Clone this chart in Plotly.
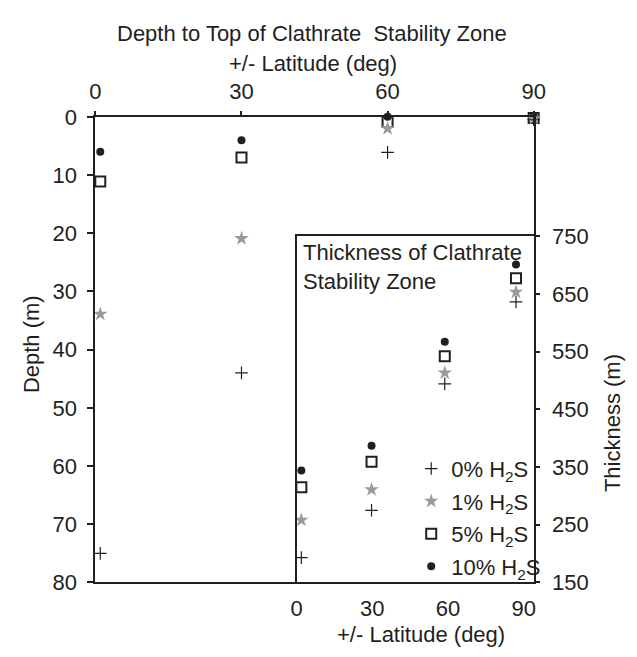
import plotly.graph_objects as go

W, H = 637, 657

# ---- data: depth to top of clathrate stability zone (main plot) ----
lat_main = [1, 30, 60, 90]
depth_0pct = [75.0, 44.0, 6.1, 0.5]
depth_1pct = [33.9, 20.9, 2.0, 0.3]
depth_5pct = [11.1, 7.0, 0.9, 0.2]
depth_10pct = [6.0, 4.0, 0.0, 0.0]

# ---- data: thickness of clathrate stability zone (inset) ----
lat_inset = [1.9, 29.7, 58.7, 86.9]
thick_0pct = [193, 275, 494, 636]
thick_1pct = [258, 311, 513, 653]
thick_5pct = [315, 359, 542, 677]
thick_10pct = [344, 387, 567, 701]

depth_ticks = [0, 10, 20, 30, 40, 50, 60, 70, 80]
lat_ticks = [0, 30, 60, 90]
thick_ticks = [150, 250, 350, 450, 550, 650, 750]

series_names = ["0% H<sub>2</sub>S", "1% H<sub>2</sub>S", "5% H<sub>2</sub>S", "10% H<sub>2</sub>S"]

FONT = "Liberation Sans, Arial, sans-serif"
FS = 22
TXT = "#231f20"
LINE = "#231f20"
GRAY = "#9a9a9a"

styles = [
    dict(symbol="cross-thin", size=9, color=TXT, line=dict(width=1.2, color=TXT)),
    dict(symbol="star", size=11, color=GRAY, line=dict(width=0)),
    dict(symbol="square-open", size=10, color=TXT, line=dict(width=2, color=TXT)),
    dict(symbol="circle", size=8, color=TXT, line=dict(width=0)),
]

main_series = [depth_0pct, depth_1pct, depth_5pct, depth_10pct]
inset_series = [thick_0pct, thick_1pct, thick_5pct, thick_10pct]

fig = go.Figure()
# draw order: dot, square, star, plus (plus on top)
for i in [3, 2, 1, 0]:
    fig.add_trace(go.Scatter(
        x=lat_main, y=main_series[i], mode="markers", marker=styles[i],
        xaxis="x", yaxis="y", showlegend=False, cliponaxis=False,
        hoverinfo="skip"))
for i in [3, 2, 1, 0]:
    fig.add_trace(go.Scatter(
        x=lat_inset, y=inset_series[i], mode="markers", marker=styles[i],
        xaxis="x2", yaxis="y2", name=series_names[i], legendrank=i + 1,
        legendgroup="g%d" % i, cliponaxis=False))

def px_x(p):
    return p / W

def px_y(p):
    return 1 - p / H

main_l, main_r, main_t, main_b = 92, 543, 109, 593
ins_l, ins_r, ins_t, ins_b = 299, 543, 233, 593

tickfont = dict(family=FONT, size=FS, color=TXT)
annfont = dict(family=FONT, size=FS, color=TXT)

fig.update_layout(
    width=W, height=H,
    margin=dict(l=0, r=0, t=0, b=0),
    paper_bgcolor="white", plot_bgcolor="rgba(0,0,0,0)",
    font=dict(family=FONT, size=FS, color=TXT),
    xaxis=dict(
        domain=[px_x(main_l), px_x(main_r)], range=[0, 90], side="top",
        tickvals=lat_ticks, ticks="outside", ticklen=4, tickwidth=2, tickcolor=LINE,
        showline=True, linewidth=2, linecolor=LINE, mirror=True, tickfont=tickfont,
        showgrid=False, zeroline=False, anchor="y", ticklabelstandoff=3,
    ),
    yaxis=dict(
        domain=[px_y(main_b), px_y(main_t)], range=[80, 0],
        tickvals=depth_ticks, ticks="outside", ticklen=6, tickwidth=2, tickcolor=LINE,
        showline=True, linewidth=2, linecolor=LINE, mirror=True, tickfont=tickfont,
        showgrid=False, zeroline=False, anchor="x", ticklabelstandoff=6,
    ),
    xaxis2=dict(
        domain=[px_x(ins_l), px_x(ins_r)], range=[0, 93.9],
        tickvals=lat_ticks, ticks="", showline=True, linewidth=2, linecolor=LINE,
        mirror=True, showgrid=False, zeroline=False, anchor="y2", tickfont=tickfont,
        ticklabelstandoff=5,
    ),
    yaxis2=dict(
        domain=[px_y(ins_b), px_y(ins_t)], range=[150, 750], side="right",
        tickvals=thick_ticks, ticks="outside", ticklen=4, tickwidth=2, tickcolor=LINE,
        showline=True, linewidth=2, linecolor=LINE, mirror=True, tickfont=tickfont,
        showgrid=False, zeroline=False, anchor="x2", ticklabelstandoff=8,
    ),
    legend=dict(
        x=px_x(417), y=px_y(453), xanchor="left", yanchor="top",
        bgcolor="rgba(0,0,0,0)", font=dict(family=FONT, size=FS, color=TXT),
        itemwidth=30, tracegroupgap=1, traceorder="grouped",
    ),
    annotations=[
        dict(text="Depth to Top of Clathrate  Stability Zone", x=px_x(315), y=px_y(22),
             xref="paper", yref="paper", showarrow=False, xanchor="center", yanchor="middle",
             font=annfont),
        dict(text="+/- Latitude (deg)", x=px_x(316), y=px_y(54),
             xref="paper", yref="paper", showarrow=False, xanchor="center", yanchor="middle",
             font=annfont),
        dict(text="Depth (m)", x=px_x(27), y=px_y(345), textangle=-90,
             xref="paper", yref="paper", showarrow=False, xanchor="center", yanchor="middle",
             font=annfont),
        dict(text="Thickness (m)", x=px_x(624), y=px_y(427), textangle=-90,
             xref="paper", yref="paper", showarrow=False, xanchor="center", yanchor="middle",
             font=annfont),
        dict(text="+/- Latitude (deg)", x=px_x(427), y=px_y(647),
             xref="paper", yref="paper", showarrow=False, xanchor="center", yanchor="middle",
             font=annfont),
        dict(text="Thickness of Clathrate<br>Stability Zone", x=px_x(304), y=px_y(235),
             xref="paper", yref="paper", showarrow=False, xanchor="left", yanchor="top",
             align="left", font=annfont),
    ],
)

fig.write_html("out.html")
